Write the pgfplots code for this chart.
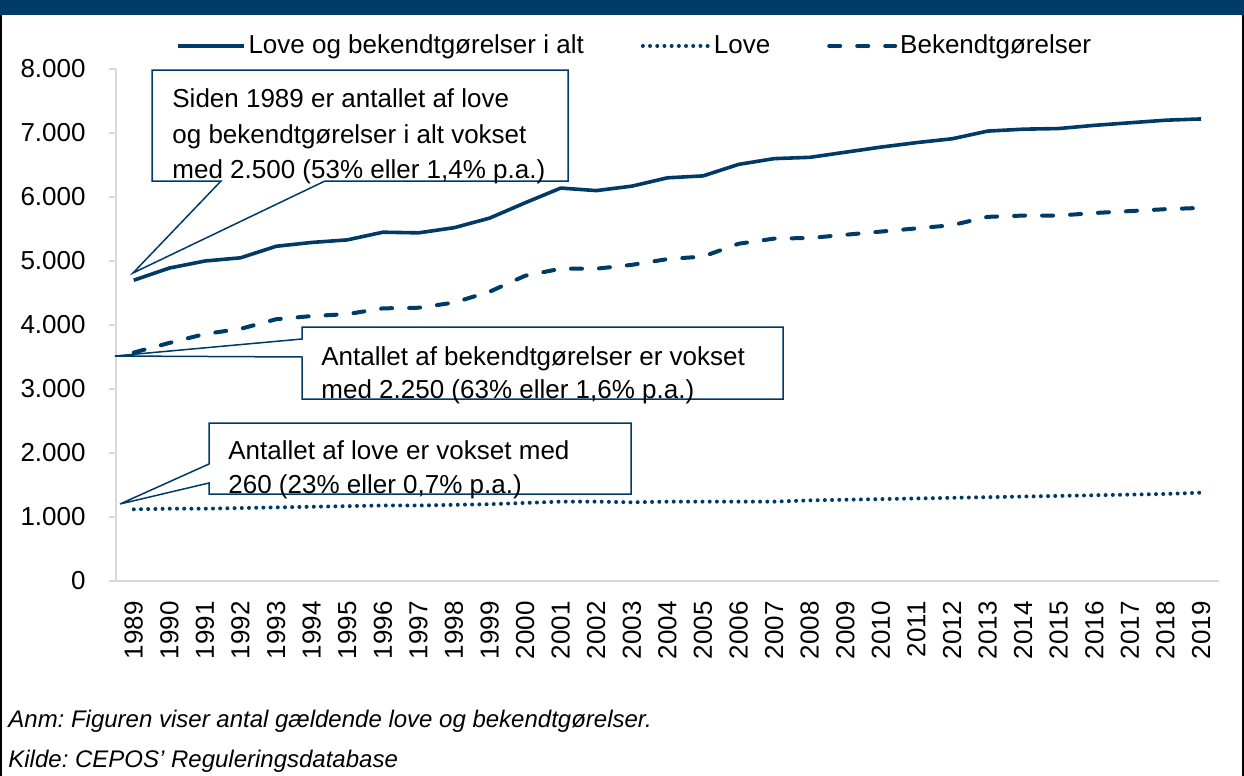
\documentclass[border=0pt]{standalone}
\usepackage{pgfplots}
\usepackage{pgfplotstable}
\pgfplotsset{compat=1.18}
\usepackage{fontspec}
\setmainfont{Liberation Sans}
\frenchspacing
\definecolor{cblue}{RGB}{0,58,102}
\definecolor{axgray}{RGB}{217,217,217}
\newcommand\lab{\fontsize{13pt}{15.6pt}\selectfont}
\pgfplotstableread{
year total bek love
1989 4700 3570 1120
1990 4890 3720 1130
1991 5000 3860 1130
1992 5050 3940 1140
1993 5230 4090 1150
1994 5290 4140 1160
1995 5330 4170 1170
1996 5450 4260 1180
1997 5440 4270 1180
1998 5520 4350 1190
1999 5670 4520 1200
2000 5910 4770 1220
2001 6140 4880 1240
2002 6100 4880 1240
2003 6170 4940 1230
2004 6300 5030 1240
2005 6330 5070 1240
2006 6510 5270 1240
2007 6600 5350 1240
2008 6620 5360 1260
2009 6700 5410 1270
2010 6780 5460 1280
2011 6850 5510 1290
2012 6910 5560 1300
2013 7030 5690 1310
2014 7060 5710 1320
2015 7070 5710 1330
2016 7120 5750 1340
2017 7160 5780 1350
2018 7200 5810 1360
2019 7220 5830 1380
}\data
\begin{document}
\begin{tikzpicture}
\path[use as bounding box] (0,0) rectangle (622pt,-388pt);
\begin{axis}[
  at={(58pt,-290.5pt)}, anchor=south west,
  scale only axis, width=551.5pt, height=256pt,
  xmin=1988.5, xmax=2019.5, ymin=0, ymax=8000,
  axis x line=bottom, axis y line=left,
  axis line style={draw=axgray, line width=0.75pt, -},
  xtick={1989,...,2019},
  ytick={0,1000,...,8000},
  tick align=outside,
  major tick length=3.5pt,
  ytick style={draw=axgray, line width=0.75pt},
  xtick style={draw=none},
  /pgf/number format/assume math mode=true,
  yticklabel style={font=\lab, inner sep=0pt, /pgf/number format/1000 sep={.}},
  xticklabel style={font=\lab, inner sep=0pt, rotate=90, anchor=east, /pgf/number format/1000 sep={}},
  yticklabel shift=11.5pt,
  xticklabel shift=6.5pt,
  legend columns=3,
  legend style={at={(0.4705,1.045)}, anchor=center, draw=none, fill=none, font=\lab,
     /tikz/every even column/.append style={column sep=27pt},
     nodes={inner xsep=1.5pt, inner ysep=0pt}},
  legend image code/.code={\draw[#1] (0pt,0pt) -- (33pt,0pt);},
]
\addplot[cblue, line width=1.8pt, line join=round] table[x=year, y=total]{\data};
\addlegendentry{Love og bekendtgørelser i alt}
\addplot[cblue, line width=2pt, line cap=round, dash pattern=on 0pt off 3.6pt] table[x=year, y=love]{\data};
\addlegendentry{Love}
\addplot[cblue, line width=2pt, line cap=round, dash pattern=on 5.5pt off 8.5pt] table[x=year, y=bek]{\data};
\addlegendentry{Bekendtgørelser}
\end{axis}
\begin{scope}[x=0.5pt, y=-0.5pt]
\fill[cblue] (0,0) rectangle (1244,15);
\draw[black, line width=1pt] (1,15) -- (1,776);
\draw[black, line width=1pt] (1243,15) -- (1243,776);
% callout 1
\draw[cblue, line width=0.75pt, fill=white, line join=miter]
  (152,70) -- (568,70) -- (568,181) -- (325,181) -- (133,273) -- (221,181) -- (152,181) -- cycle;
\node[anchor=base west, inner sep=0pt, font=\lab] at (172,107) {Siden 1989 er antallet af love};
\node[anchor=base west, inner sep=0pt, font=\lab] at (172,143) {og bekendtgørelser i alt vokset};
\node[anchor=base west, inner sep=0pt, font=\lab] at (172,178) {med 2.500 (53\% eller 1,4\% p.a.)};
% callout 2
\draw[cblue, line width=0.75pt, fill=white]
  (302,327) -- (783,327) -- (783,399) -- (302,399) -- (302,357) -- (115,356) -- (302,339) -- cycle;
\node[anchor=base west, inner sep=0pt, font=\lab] at (321,365) {Antallet af bekendtgørelser er vokset};
\node[anchor=base west, inner sep=0pt, font=\lab] at (321,398) {med 2.250 (63\% eller 1,6\% p.a.)};
% callout 3
\draw[cblue, line width=0.75pt, fill=white]
  (209,423) -- (631,423) -- (631,494) -- (209,494) -- (209,483) -- (120,504) -- (209,464) -- cycle;
\node[anchor=base west, inner sep=0pt, font=\lab] at (228,459) {Antallet af love er vokset med};
\node[anchor=base west, inner sep=0pt, font=\lab] at (228,493) {260 (23\% eller 0,7\% p.a.)};
% notes
\node[anchor=base west, inner sep=0pt, font=\fontsize{12pt}{14pt}\selectfont\itshape] at (8,727) {Anm: Figuren viser antal gældende love og bekendtgørelser.};
\node[anchor=base west, inner sep=0pt, font=\fontsize{12pt}{14pt}\selectfont\itshape] at (8,767) {Kilde: CEPOS’ Reguleringsdatabase};
\end{scope}
\end{tikzpicture}
\end{document}
